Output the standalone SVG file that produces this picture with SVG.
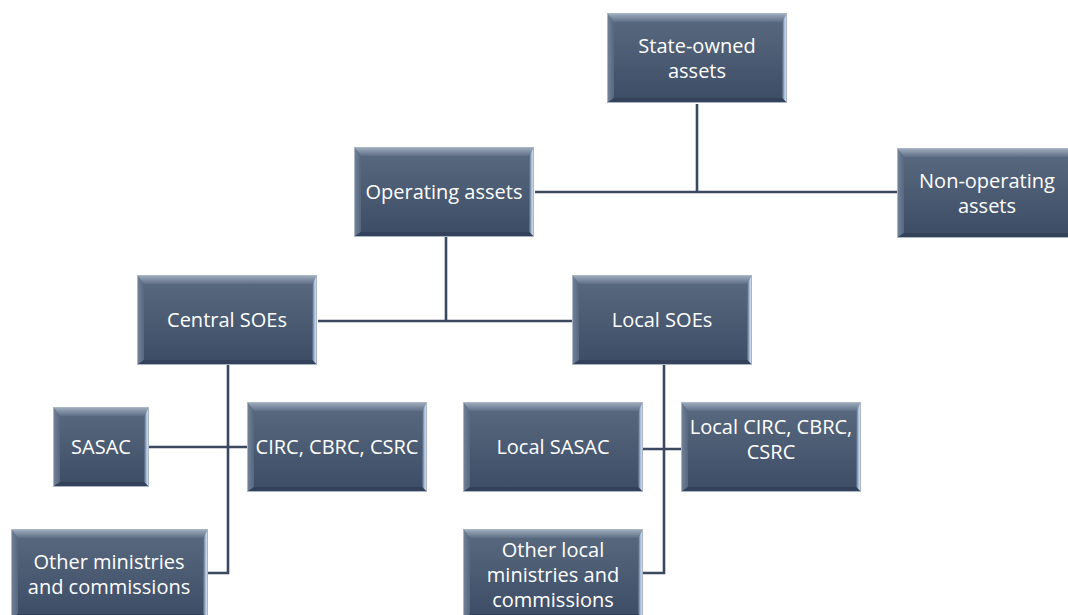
<svg xmlns="http://www.w3.org/2000/svg" xmlns:xlink="http://www.w3.org/1999/xlink" width="1068" height="615" viewBox="0 0 1068 615">
<style>
.t{font-family:"Open Sans","Noto Sans","Liberation Sans",sans-serif;font-size:20px;fill:#ffffff;text-anchor:middle}
.c{fill:none;stroke:#3a4960;stroke-width:2.6}
.bd{fill:none;stroke:#aab6c6;stroke-width:1}
.bb{fill:#33425a}
</style>
<defs>
<linearGradient id="gFace" x1="0" y1="0" x2="0" y2="1"><stop offset="0" stop-color="#5a6a80"/><stop offset="1" stop-color="#3c4c65"/></linearGradient>
<linearGradient id="gTop" x1="0" y1="0" x2="0" y2="1"><stop offset="0" stop-color="#a3b0c1"/><stop offset="1" stop-color="#5f6f86"/></linearGradient>
<linearGradient id="gLeft" x1="0" y1="0" x2="1" y2="0"><stop offset="0" stop-color="#74849a"/><stop offset="1" stop-color="#56667c"/></linearGradient>
<linearGradient id="gRight" x1="0" y1="0" x2="1" y2="0"><stop offset="0" stop-color="#4c5c74"/><stop offset="0.5" stop-color="#a9bdd8"/><stop offset="1" stop-color="#f0f5fb"/></linearGradient>
<g id="bx">
<rect width="180" height="90" fill="url(#gFace)"/>
<polygon points="0,0 180,0 175,9 7,9" fill="url(#gTop)"/>
<polygon points="0,0 7,9 7,85 0,90" fill="url(#gLeft)"/>
<polygon points="180,0 180,90 175,85 175,9" fill="url(#gRight)"/>
<polygon points="0,90 180,90 175,85 7,85" class="bb"/>
<rect x="0.5" y="0.5" width="179" height="89" class="bd"/>
</g>
<g id="bxS">
<rect width="96" height="80" fill="url(#gFace)"/>
<polygon points="0,0 96,0 91,9 7,9" fill="url(#gTop)"/>
<polygon points="0,0 7,9 7,75 0,80" fill="url(#gLeft)"/>
<polygon points="96,0 96,80 91,75 91,9" fill="url(#gRight)"/>
<polygon points="0,80 96,80 91,75 7,75" class="bb"/>
<rect x="0.5" y="0.5" width="95" height="79" class="bd"/>
</g>
<g id="bxW">
<rect width="197" height="90" fill="url(#gFace)"/>
<polygon points="0,0 197,0 192,9 7,9" fill="url(#gTop)"/>
<polygon points="0,0 7,9 7,85 0,90" fill="url(#gLeft)"/>
<polygon points="197,0 197,90 192,85 192,9" fill="url(#gRight)"/>
<polygon points="0,90 197,90 192,85 7,85" class="bb"/>
<rect x="0.5" y="0.5" width="196" height="89" class="bd"/>
</g>
</defs>
<rect width="1068" height="615" fill="#ffffff"/>
<g id="connectors">
<path class="c" d="M697,104 V192"/>
<path class="c" d="M535,192 H897"/>
<path class="c" d="M446,237 V321"/>
<path class="c" d="M318,321 H572"/>
<path class="c" d="M228,363 V573 H208"/>
<path class="c" d="M149,447 H247"/>
<path class="c" d="M664,363 V573 H643"/>
<path class="c" d="M643,449 H681"/>
</g>
<g id="n-state">
<use xlink:href="#bx" x="607" y="13"/>
<text class="t" x="697" y="53">State-owned</text>
<text class="t" x="697" y="78">assets</text>
</g>
<g id="n-operating">
<use xlink:href="#bx" x="354" y="147"/>
<text class="t" x="444" y="199">Operating assets</text>
</g>
<g id="n-nonoperating">
<use xlink:href="#bx" x="897" y="148"/>
<text class="t" x="987" y="188">Non-operating</text>
<text class="t" x="987" y="213">assets</text>
</g>
<g id="n-central">
<use xlink:href="#bx" x="137" y="275"/>
<text class="t" x="227" y="327">Central SOEs</text>
</g>
<g id="n-local">
<use xlink:href="#bx" x="572" y="275"/>
<text class="t" x="662" y="327">Local SOEs</text>
</g>
<g id="n-sasac">
<use xlink:href="#bxS" x="53" y="407"/>
<text class="t" x="101" y="454">SASAC</text>
</g>
<g id="n-circ">
<use xlink:href="#bx" x="247" y="402"/>
<text class="t" x="337" y="454">CIRC, CBRC, CSRC</text>
</g>
<g id="n-localsasac">
<use xlink:href="#bx" x="463" y="402"/>
<text class="t" x="553" y="454">Local SASAC</text>
</g>
<g id="n-localcirc">
<use xlink:href="#bx" x="681" y="402"/>
<text class="t" x="771" y="434">Local CIRC, CBRC,</text>
<text class="t" x="771" y="459">CSRC</text>
</g>
<g id="n-other">
<use xlink:href="#bxW" x="11" y="529"/>
<text class="t" x="109" y="569">Other ministries</text>
<text class="t" x="109" y="594">and commissions</text>
</g>
<g id="n-otherlocal">
<use xlink:href="#bx" x="463" y="529"/>
<text class="t" x="553" y="557">Other local</text>
<text class="t" x="553" y="582">ministries and</text>
<text class="t" x="553" y="607">commissions</text>
</g>
</svg>
